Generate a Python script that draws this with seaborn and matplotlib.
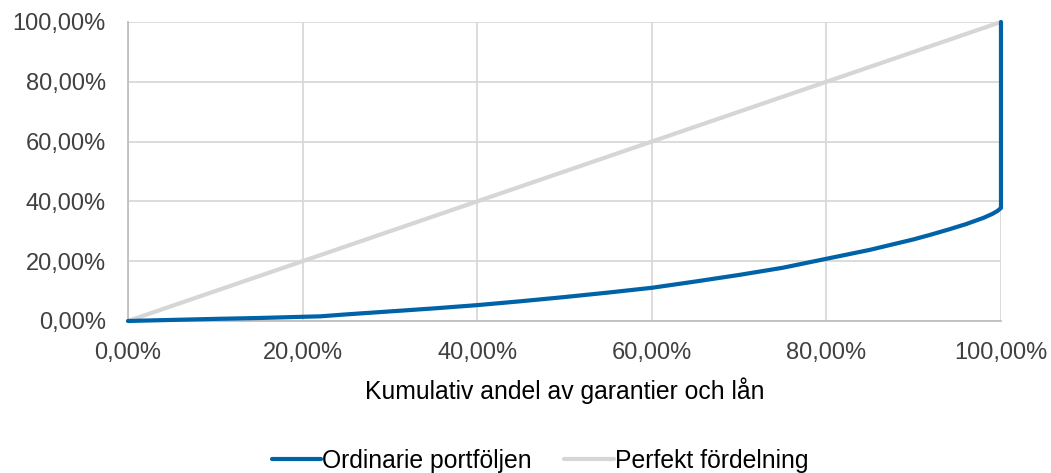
import numpy as np
import pandas as pd
import matplotlib
matplotlib.use("Agg")
import matplotlib.pyplot as plt
import seaborn as sns
from matplotlib.ticker import FuncFormatter, MultipleLocator

# Cumulative share of guarantees and loans (x) vs cumulative share of losses (y), in percent
cum_share = [0, 5, 10, 15, 20, 22, 25, 30, 35, 40, 45, 50, 55, 60, 65, 70, 75,
             80, 85, 88, 90, 92, 94, 96, 98, 99, 99.6, 100, 100]
ordinarie = [0, 0.35, 0.7, 1.0, 1.4, 1.55, 2.2, 3.2, 4.2, 5.3, 6.6, 8.0, 9.5,
             11.1, 13.2, 15.4, 17.8, 20.8, 23.8, 25.9, 27.3, 28.9, 30.6, 32.4,
             34.5, 35.8, 36.8, 37.8, 100]
perfekt_x = [0, 100]
perfekt_y = [0, 100]

series_names = ["Ordinarie portföljen", "Perfekt fördelning"]
x_label = "Kumulativ andel av garantier och lån"

sns.set_theme(style="white")
plt.rcParams['font.family'] = ['Liberation Sans', 'DejaVu Sans']

df_ord = pd.DataFrame({"x": cum_share, "y": ordinarie})
df_perf = pd.DataFrame({"x": perfekt_x, "y": perfekt_y})

fig = plt.figure(figsize=(10.51, 4.73), dpi=100)
ax = fig.add_axes([0.1218, 0.3214, 0.8306, 0.6321])

sns.lineplot(data=df_ord, x="x", y="y", ax=ax, color="#0062a7", lw=3,
             sort=False, label=series_names[0], estimator=None)
sns.lineplot(data=df_perf, x="x", y="y", ax=ax, color="#d6d6d6", lw=3,
             sort=False, label=series_names[1], estimator=None)
# blue on top of gray, and don't clip the lines at the axes edge
ax.lines[0].set_zorder(3)
ax.lines[0].set_solid_joinstyle("round")
for ln in ax.lines[:2]:
    ln.set_clip_on(False)

ax.set_xlim(0, 100)
ax.set_ylim(0, 100)
ax.xaxis.set_major_locator(MultipleLocator(20))
ax.yaxis.set_major_locator(MultipleLocator(20))
fmt = FuncFormatter(lambda v, p: f"{v:.2f}%".replace(".", ","))
ax.xaxis.set_major_formatter(fmt)
ax.yaxis.set_major_formatter(fmt)

ax.grid(True, color="#d9d9d9", lw=1.3)
ax.set_axisbelow(True)
for s in ["top", "right"]:
    ax.spines[s].set_visible(False)
for s in ["left", "bottom"]:
    ax.spines[s].set_color("#bfbfbf")
    ax.spines[s].set_linewidth(1.3)

ax.tick_params(axis="y", length=0, labelsize=17, labelcolor="#404040", pad=16)
ax.tick_params(axis="x", length=0, labelsize=17, labelcolor="#404040", pad=15)
ax.set_xlabel(x_label, fontsize=17.8, color="#000000", labelpad=10)
ax.set_ylabel("")

leg = ax.legend(loc="center", bbox_to_anchor=(0.472, -0.468), ncol=2,
                frameon=False, fontsize=17.8, handlelength=2.0, handletextpad=0.05,
                columnspacing=1.3)
for t in leg.get_texts():
    t.set_color("#000000")

fig.savefig("out.png", dpi=100)
